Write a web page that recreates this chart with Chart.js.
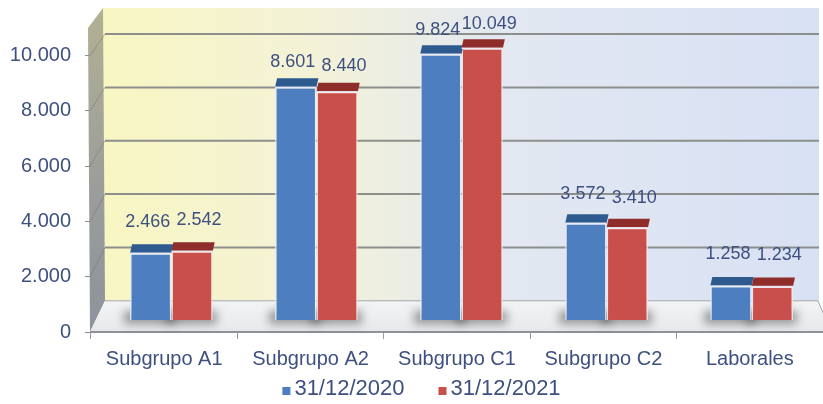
<!DOCTYPE html>
<html>
<head>
<meta charset="utf-8">
<script src="https://cdn.jsdelivr.net/npm/chart.js@4/dist/chart.umd.min.js"></script>
<style>
  html, body { margin: 0; padding: 0; background: #fff; }
  #wrap { width: 823px; height: 404px; position: relative; }
</style>
</head>
<body>
<div id="wrap"><canvas id="chart"></canvas></div>
<script>
// --- data ---
const categories = ['Subgrupo A1', 'Subgrupo A2', 'Subgrupo C1', 'Subgrupo C2', 'Laborales'];
const seriesNames = ['31/12/2020', '31/12/2021'];
const values2020 = [2466, 8601, 9824, 3572, 1258];
const values2021 = [2542, 8440, 10049, 3410, 1234];
const yTickValues = [0, 2000, 4000, 6000, 8000, 10000];

const FONT = "'Liberation Sans', Arial, sans-serif";
const TEXT = '#3e5080';

// colours: front face / top face
const blue = { front: '#4d7fc0', top: '#2e5a8f' };
const red = { front: '#c94f4b', top: '#8f2d2b' };

// thousands with a dot, like es-ES (which skips 4-digit grouping)
function fmt(v) {
  return String(v).replace(/\B(?=(\d{3})+(?!\d))/g, '.');
}

const DX = 14; // horizontal depth of the box

const box3d = {
  id: 'box3d',
  beforeDraw(chart) {
    const { ctx, chartArea: ca, scales } = chart;
    const y = scales.y, yw = scales.yw;
    const front = y.getPixelForValue(0);
    const back = yw.getPixelForValue(0);
    const wallTop = 8;
    const l = ca.left, r = ca.right;
    ctx.save();

    // back wall
    const g = ctx.createLinearGradient(l + DX, 0, r, 0);
    g.addColorStop(0, '#f8f6c2');
    g.addColorStop(0.3, '#f3f2d8');
    g.addColorStop(0.55, '#e3e8f1');
    g.addColorStop(1, '#d8e1f4');
    ctx.fillStyle = g;
    ctx.fillRect(l + DX - 2, wallTop, r - 4 - (l + DX - 2), back - wallTop);

    // left wall
    const lw = ctx.createLinearGradient(0, wallTop, 0, front);
    lw.addColorStop(0, '#b2b194');
    lw.addColorStop(0.5, '#9d9f9a');
    lw.addColorStop(1, '#8e929c');
    ctx.fillStyle = lw;
    ctx.beginPath();
    ctx.moveTo(l - 3, ca.top);
    ctx.lineTo(l + DX - 2, wallTop);
    ctx.lineTo(l + DX, back);
    ctx.lineTo(l - 1, front);
    ctx.closePath();
    ctx.fill();

    // floor
    const fl = ctx.createLinearGradient(0, back, 0, front);
    fl.addColorStop(0, '#f3f4f5');
    fl.addColorStop(1, '#e6e8eb');
    ctx.fillStyle = fl;
    ctx.beginPath();
    ctx.moveTo(l - 1, front);
    ctx.lineTo(l + DX, back);
    ctx.lineTo(r - 5, back);
    ctx.lineTo(r + 8, front);
    ctx.closePath();
    ctx.fill();
    ctx.strokeStyle = '#a4a7ab';
    ctx.lineWidth = 1;
    ctx.beginPath();
    ctx.moveTo(l + DX, back);
    ctx.lineTo(r - 5, back);
    ctx.lineTo(r + 8, front);
    ctx.stroke();

    // grid lines on back wall + slant on left wall
    yTickValues.slice(1).forEach(v => {
      const pf = y.getPixelForValue(v);
      const pb = yw.getPixelForValue(v);
      ctx.strokeStyle = '#8c8f8c';
      ctx.lineWidth = 2;
      ctx.beginPath();
      ctx.moveTo(l + DX, pb);
      ctx.lineTo(r - 4, pb);
      ctx.stroke();
      ctx.strokeStyle = 'rgba(110,110,95,0.45)';
      ctx.lineWidth = 1;
      ctx.beginPath();
      ctx.moveTo(l - 1, pf);
      ctx.lineTo(l + DX, pb);
      ctx.stroke();
    });
    ctx.restore();
  },
  beforeDatasetsDraw(chart) {
    // soft shadow on the floor under each bar
    const { ctx } = chart;
    ctx.save();
    ctx.filter = 'blur(5px)';
    ctx.fillStyle = 'rgba(40,40,40,0.45)';
    chart.data.datasets.forEach((ds, i) => {
      chart.getDatasetMeta(i).data.forEach(bar => {
        ctx.fillRect(bar.x - bar.width / 2 - 6, bar.base - 9, bar.width + 10, 13);
      });
    });
    ctx.restore();
  },
  afterDatasetsDraw(chart) {
    const { ctx } = chart;
    ctx.save();
    chart.data.datasets.forEach((ds, i) => {
      const col = i === 0 ? blue : red;
      chart.getDatasetMeta(i).data.forEach((bar, j) => {
        const x0 = bar.x - bar.width / 2, x1 = bar.x + bar.width / 2;
        // top face
        ctx.fillStyle = col.top;
        ctx.beginPath();
        ctx.moveTo(x0, bar.y);
        ctx.lineTo(x1, bar.y);
        ctx.lineTo(x1 + 2, bar.y - 9);
        ctx.lineTo(x0 + 2, bar.y - 9);
        ctx.closePath();
        ctx.fill();
        ctx.strokeStyle = 'rgba(235,240,250,0.9)';
        ctx.lineWidth = 1.5;
        ctx.beginPath();
        ctx.moveTo(x0, bar.y);
        ctx.lineTo(x1, bar.y);
        ctx.stroke();
        // value label, a bit closer to the taller bars (perspective)
        const v = ds.data[j].y;
        ctx.fillStyle = TEXT;
        ctx.font = '18px ' + FONT;
        ctx.textAlign = 'center';
        ctx.textBaseline = 'middle';
        ctx.fillText(fmt(v), bar.x + (i === 0 ? -3 : 7), bar.y - (33 - v * 0.0009));
      });
    });
    ctx.restore();
  },
  afterDraw(chart) {
    // legend: small square + label, centred under the axis
    const { ctx, width } = chart;
    ctx.save();
    ctx.font = '22px ' + FONT;
    ctx.textBaseline = 'middle';
    ctx.textAlign = 'left';
    const box = 8, gap = 4, between = 34;
    const items = chart.data.datasets.map(ds => ({ text: ds.label, color: ds.backgroundColor }));
    const total = items.reduce((s, it) => s + box + gap + ctx.measureText(it.text).width, 0) + between * (items.length - 1);
    let x = width / 2 + 10 - total / 2;
    const cy = 389;
    items.forEach(it => {
      ctx.fillStyle = it.color;
      ctx.fillRect(x, cy - 2, box, box);
      x += box + gap;
      ctx.fillStyle = TEXT;
      ctx.fillText(it.text, x, cy);
      x += ctx.measureText(it.text).width + between;
    });
    ctx.restore();
  }
};

const ctx = document.getElementById('chart').getContext('2d');
new Chart(ctx, {
  type: 'bar',
  data: {
    labels: categories,
    datasets: [
      {
        label: seriesNames[0],
        data: values2020.map((v, i) => ({ x: i, y: v })),
        backgroundColor: blue.front,
        borderColor: 'rgba(230,236,248,0.9)',
        borderWidth: 1.5,
        borderSkipped: 'bottom',
        xAxisID: 'xb',
        yAxisID: 'yb'
      },
      {
        label: seriesNames[1],
        data: values2021.map((v, i) => ({ x: i, y: v })),
        backgroundColor: red.front,
        borderColor: 'rgba(248,230,228,0.9)',
        borderWidth: 1.5,
        borderSkipped: 'bottom',
        xAxisID: 'xb',
        yAxisID: 'yb'
      }
    ]
  },
  options: {
    responsive: true,
    maintainAspectRatio: false,
    animation: false,
    layout: { padding: { left: 11, right: 0, top: 28, bottom: 25 } },
    categoryPercentage: 0.57,
    barPercentage: 1.0,
    plugins: {
      legend: { display: false },
      tooltip: { enabled: false }
    },
    scales: {
      x: {
        grid: {
          display: true,
          drawOnChartArea: false,
          tickLength: 7,
          color: '#9a9da2'
        },
        border: { display: true, color: '#8e9196', width: 2 },
        ticks: {
          color: TEXT,
          padding: 8,
          font: { family: FONT, size: 20 }
        }
      },
      // bars sit mid-depth, so slightly narrower than the front axis
      xb: {
        type: 'linear',
        display: false,
        offset: false,
        min: -0.554,
        max: 4.492,
        afterBuildTicks: scale => {
          scale.ticks = categories.map((c, i) => ({ value: i }));
        }
      },
      // visible front axis
      y: {
        min: 0,
        max: 11000,
        afterBuildTicks: scale => {
          scale.ticks = yTickValues.map(v => ({ value: v }));
        },
        afterFit: scale => { scale.width = 80; },
        grid: {
          drawOnChartArea: false,
          tickLength: 6,
          color: '#8e9196'
        },
        border: { display: false },
        ticks: {
          color: TEXT,
          padding: 14,
          font: { family: FONT, size: 20 },
          callback: v => fmt(v)
        }
      },
      // bars stand a little behind the front edge
      yb: {
        display: false,
        min: -447,
        max: 10797
      },
      // back wall, further away again
      yw: {
        display: false,
        min: -1170,
        max: 10226
      }
    }
  },
  plugins: [box3d]
});
</script>
</body>
</html>
